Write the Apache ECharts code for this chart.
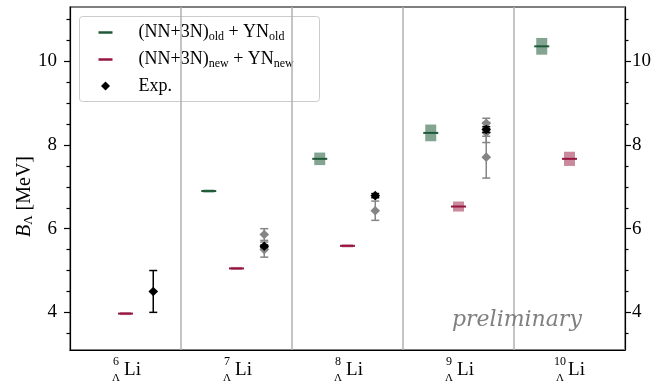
<!DOCTYPE html>
<html><head><meta charset="utf-8">
<script src="https://cdn.jsdelivr.net/npm/echarts@6/dist/echarts.min.js"></script>
<style>html,body{margin:0;padding:0;background:#fff}#c{width:657px;height:384px}</style>
</head><body><div id="c"></div>
<script>
// ---- data ----
const massNumbers = ['6', '7', '8', '9', '10'];
const oldVal = [null, 6.90, 7.67, 8.29, 10.36];
const oldErr = [null, 0.02, 0.15, 0.20, 0.20];
const newVal = [3.97, 5.05, 5.59, 6.53, 7.67];
const newErr = [0.02, 0.02, 0.02, 0.12, 0.17];
const expVal = [4.50, 5.58, 6.79, 8.37, null];
const expErr = [0.50, 0.03, 0.05, 0.07, null];
const otherCat = [1, 1, 2, 3, 3, 3];
const otherVal = [5.86, 5.50, 6.43, 8.52, 8.30, 7.71];
const otherErr = [0.14, 0.18, 0.23, 0.12, 0.24, 0.50];
const majorTicks = [4, 6, 8, 10];
const minorTicks = [3.5, 4.5, 5, 5.5, 6.5, 7, 7.5, 8.5, 9, 9.5, 10.5, 11];

const FONT = '"Liberation Serif", "DejaVu Serif", serif';
const GREEN = '#1e5a37', GREEN_FILL = 'rgba(30,90,55,0.55)';
const RED = '#961440', RED_FILL = 'rgba(150,20,60,0.5)';
const GREY = '#858585';

function rows(cats, vals, errs) {
  const out = [];
  for (let i = 0; i < vals.length; i++) {
    if (vals[i] == null) continue;
    out.push([cats ? cats[i] : i, vals[i], errs[i]]);
  }
  return out;
}

function bandItem(offset, line, fill) {
  return function (params, api) {
    const c = api.value(0), v = api.value(1), e = api.value(2);
    const w = api.size([1, 0])[0];
    const p = api.coord([c, v]);
    const x = p[0] + offset * w;
    const y1 = api.coord([c, v + e])[1], y2 = api.coord([c, v - e])[1];
    const h = Math.max(y2 - y1, 3);
    return { type: 'group', children: [
      { type: 'rect', shape: { x: x - 5.5, y: p[1] - h / 2, width: 11, height: h }, style: { fill: fill } },
      { type: 'line', shape: { x1: x - 7.5, y1: p[1], x2: x + 7.5, y2: p[1] }, style: { stroke: line, lineWidth: 2 } }
    ]};
  };
}

function expItem(offset, color) {
  return function (params, api) {
    const c = api.value(0), v = api.value(1), e = api.value(2);
    const w = api.size([1, 0])[0];
    const p = api.coord([c, v]);
    const x = p[0] + offset * w;
    const yt = api.coord([c, v + e])[1], yb = api.coord([c, v - e])[1];
    const s = 4.8;
    return { type: 'group', children: [
      { type: 'line', shape: { x1: x, y1: yt, x2: x, y2: yb }, style: { stroke: color, lineWidth: 1.5 } },
      { type: 'line', shape: { x1: x - 4, y1: yt, x2: x + 4, y2: yt }, style: { stroke: color, lineWidth: 1.5 } },
      { type: 'line', shape: { x1: x - 4, y1: yb, x2: x + 4, y2: yb }, style: { stroke: color, lineWidth: 1.5 } },
      { type: 'polygon', shape: { points: [[x, p[1] - s], [x + s, p[1]], [x, p[1] + s], [x - s, p[1]]] }, style: { fill: color } }
    ]};
  };
}

const chart = echarts.init(document.getElementById('c'), null, { renderer: 'canvas' });

function yAxisDef(pos, major) {
  return {
    type: 'value', position: pos, min: 3.1, max: 11.3,
    axisLine: { show: major, lineStyle: { color: '#000', width: 1.2 } },
    axisTick: { show: true, customValues: major ? majorTicks : minorTicks, length: major ? 6 : 3.5, lineStyle: { color: '#000', width: 1.2 } },
    axisLabel: major ? { show: true, customValues: majorTicks, color: '#000', fontFamily: FONT, fontSize: 19, margin: pos === 'left' ? 13 : 7 } : { show: false },
    splitLine: { show: false },
    name: (major && pos === 'left') ? '{i|B}{s|Λ} [MeV]' : '',
    nameLocation: 'middle', nameGap: 35, nameMoveOverlap: false,
    nameTextStyle: { color: '#000', fontFamily: FONT, fontSize: 20, padding: [0, 36, 0, 0],
      rich: { i: { fontStyle: 'italic', fontFamily: FONT, fontSize: 20 }, s: { fontFamily: FONT, fontSize: 13, padding: [8, 0, 0, 0] } } }
  };
}

chart.setOption({
  animation: false,
  backgroundColor: '#fff',
  grid: { left: 70, right: 32, top: 7, bottom: 34, show: true, borderColor: '#000', borderWidth: 1.2, outerBoundsMode: 'none', containLabel: false },
  xAxis: {
    type: 'category', data: massNumbers, boundaryGap: true,
    axisLine: { lineStyle: { color: '#000', width: 1.2 } },
    axisTick: { alignWithLabel: true, length: 5, lineStyle: { color: '#000', width: 1.2 } },
    splitLine: { show: true, lineStyle: { color: '#b0b0b0', width: 1.5 } },
    axisLabel: {
      margin: 8, color: '#000', fontFamily: FONT,
      formatter: function (v) { return '{a|' + v + '}{g|}\n{p|}{li|Li}\n{b|Λ}{g|}'; },
      rich: {
        a: { fontFamily: FONT, fontSize: 12, width: 14, align: 'right', lineHeight: 8 },
        b: { fontFamily: FONT, fontSize: 11, width: 14, align: 'right', lineHeight: 8 },
        g: { width: 19, lineHeight: 8 },
        p: { width: 14, lineHeight: 8 },
        li: { fontFamily: FONT, fontSize: 19, width: 19, align: 'left', lineHeight: 8 }
      }
    }
  },
  yAxis: [yAxisDef('left', true), yAxisDef('left', false), yAxisDef('right', true), yAxisDef('right', false)],
  series: [
    { type: 'custom', name: 'old', renderItem: bandItem(-0.25, GREEN, GREEN_FILL), data: rows(null, oldVal, oldErr), z: 3 },
    { type: 'custom', name: 'new', renderItem: bandItem(0, RED, RED_FILL), data: rows(null, newVal, newErr), z: 3 },
    { type: 'custom', name: 'other', renderItem: expItem(0.25, GREY), data: rows(otherCat, otherVal, otherErr), z: 4 },
    { type: 'custom', name: 'Exp.', renderItem: expItem(0.25, '#000'), data: rows(null, expVal, expErr), z: 5 }
  ],
  graphic: [
    { type: 'text', left: 452, top: 309, z: 2, style: { text: 'preliminary', fill: '#808080', fontFamily: '"DejaVu Serif", serif', fontStyle: 'italic', fontSize: 22 } },
    { type: 'group', left: 79, top: 16, z: 10, children: [
      { type: 'rect', shape: { x: 0, y: 0, width: 240, height: 85, r: 3 }, style: { fill: 'rgba(255,255,255,0.8)', stroke: '#cccccc', lineWidth: 1 } },
      { type: 'line', shape: { x1: 19, y1: 16, x2: 33, y2: 16 }, style: { stroke: GREEN, lineWidth: 2.5 } },
      { type: 'line', shape: { x1: 19, y1: 43, x2: 33, y2: 43 }, style: { stroke: RED, lineWidth: 2.5 } },
      { type: 'polygon', shape: { points: [[26, 65], [30.5, 69.5], [26, 74], [21.5, 69.5]] }, style: { fill: '#000' } },
      { type: 'text', x: 59, y: 16, style: { text: '(NN+3N){s|old} + YN{s|old}', fill: '#000', fontFamily: FONT, fontSize: 18, verticalAlign: 'middle',
        rich: { s: { fontFamily: FONT, fontSize: 12, padding: [8, 0, 0, 0] } } } },
      { type: 'text', x: 59, y: 43, style: { text: '(NN+3N){s|new} + YN{s|new}', fill: '#000', fontFamily: FONT, fontSize: 18, verticalAlign: 'middle',
        rich: { s: { fontFamily: FONT, fontSize: 12, padding: [8, 0, 0, 0] } } } },
      { type: 'text', x: 59, y: 70, style: { text: 'Exp.', fill: '#000', fontFamily: FONT, fontSize: 18, verticalAlign: 'middle' } }
    ]}
  ]
});
</script></body></html>
